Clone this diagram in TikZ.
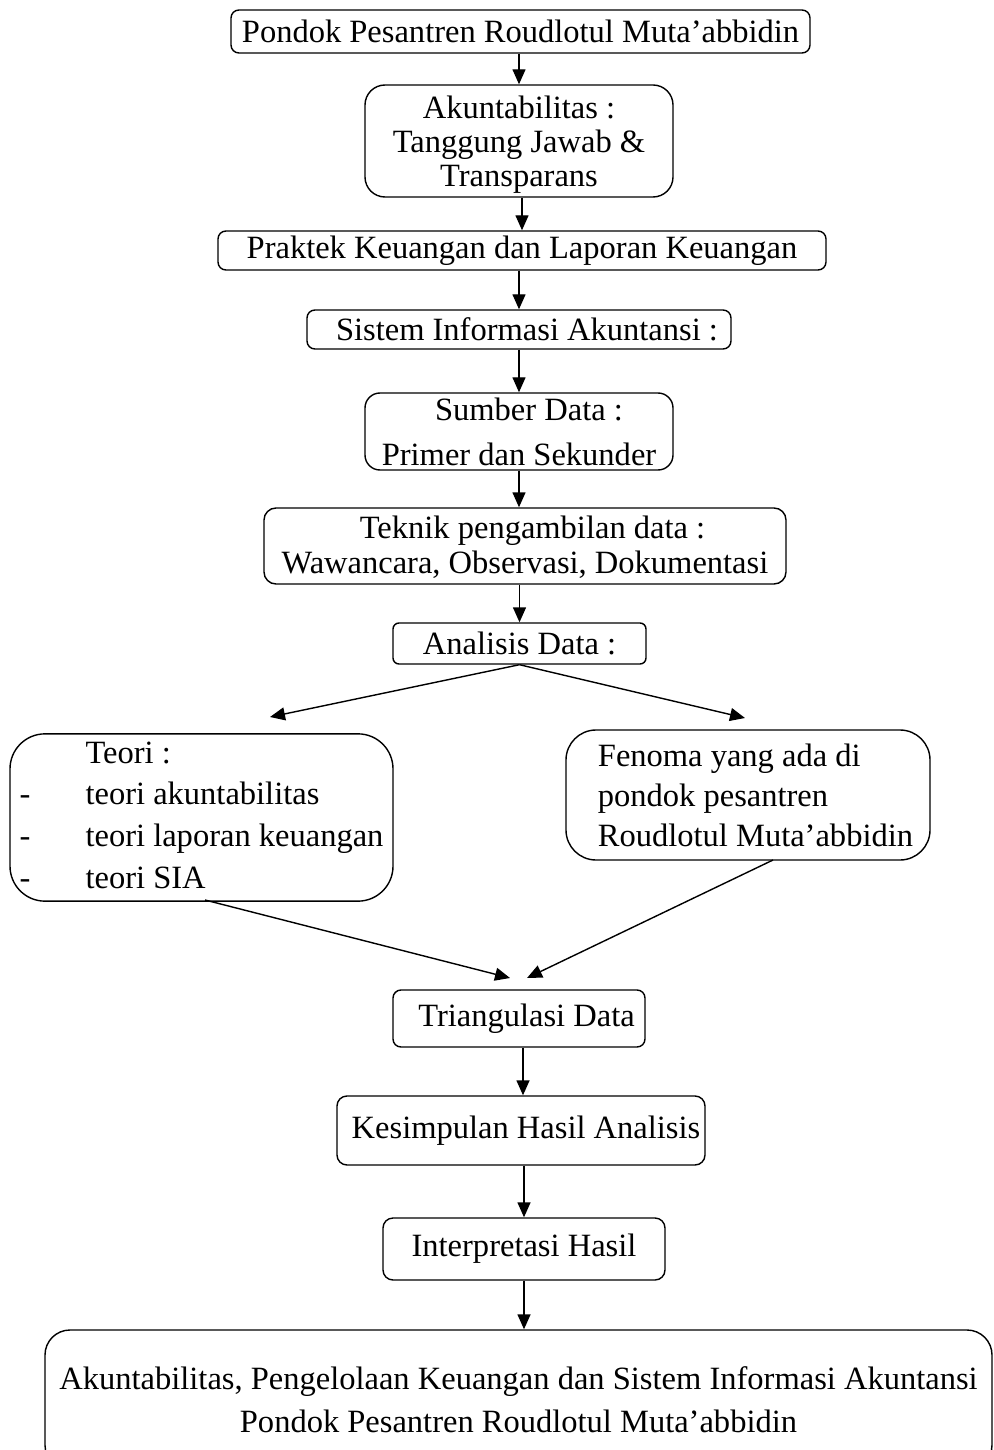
\documentclass[tikz,border=0pt]{standalone}
\usepackage{fontspec}
\setmainfont{Liberation Serif}
\usepackage{tikz}
\usetikzlibrary{arrows.meta, calc}
\tikzset{
  stepbox/.style={draw, rounded corners=1.6mm, align=center, inner sep=0pt, line width=0.8pt},
  link/.style={-{Triangle[length=3mm, width=2.6mm]}, line width=0.8pt}
}
\newcommand{\lineskipat}[1]{\fontsize{18.5}{#1}\selectfont}

\begin{document}
\begin{tikzpicture}[x=0.2mm, y=-0.2mm, font=\lineskipat{23}]
        \clip (0,0) rectangle (993,1450);

        % Main column
        \node[stepbox, minimum width=115.8mm, minimum height=8.6mm] (pondok) at (520.5,31.5) {Pondok Pesantren Roudlotul Muta'abbidin};
        \node[stepbox, rounded corners=4mm, minimum width=61.6mm, minimum height=22.4mm, font=\lineskipat{19.3}] (akun) at (519,141) {\rule{0pt}{6mm}Akuntabilitas :\\Tanggung Jawab \&\\Transparans};
        \node[stepbox, minimum width=121.6mm, minimum height=7.8mm] (praktek) at (522,250.5) {Praktek Keuangan dan Laporan Keuangan};
        \node[stepbox, minimum width=84.8mm, minimum height=7.8mm] (sia) at (519,329.5) {\hspace{3.2mm}Sistem Informasi Akuntansi :};
        \node[stepbox, rounded corners=3mm, minimum width=61.6mm, minimum height=15.4mm, font=\lineskipat{25.5}] (sumber) at (519,431.5) {\hspace{4mm}Sumber Data :\\Primer dan Sekunder};
        \node[stepbox, rounded corners=2.4mm, minimum width=104.4mm, minimum height=15.2mm, font=\lineskipat{20.4}] (teknik) at (525,546) {\rule{0pt}{5mm}\hspace{3mm}Teknik pengambilan data :\\Wawancara, Observasi, Dokumentasi};
        \node[stepbox, rounded corners=1.2mm, minimum width=50.6mm, minimum height=8.2mm] (analisis) at (519.5,643.5) {Analisis Data :};

        % Two branches
        \node[stepbox, rounded corners=7mm, minimum width=76.6mm, minimum height=33mm, font=\lineskipat{23.8}] (teori) at (201.5,817.5) {\begin{tabular}{@{}p{13.2mm}@{}l@{}}
            & Teori :\\
          - & teori akuntabilitas\\
          - & teori laporan keuangan\\
          - & teori SIA
        \end{tabular}};
        \node[stepbox, rounded corners=6mm, minimum width=72.8mm, minimum height=26mm, align=left, font=\lineskipat{22.7}] (fenoma) at (748,795) {\hspace{3mm}Fenoma yang ada di\\\hspace{3mm}pondok pesantren\\\hspace{3mm}Roudlotul Muta'abbidin};

        % Lower column
        \node[stepbox, minimum width=50.4mm, minimum height=11.4mm] (triang) at (519,1018.5) {\hspace{3mm}Triangulasi Data};
        \node[stepbox, rounded corners=2mm, minimum width=73.6mm, minimum height=13.8mm] (simpul) at (521,1130.5) {\hspace{2mm}Kesimpulan Hasil Analisis};
        \node[stepbox, rounded corners=2mm, minimum width=56.4mm, minimum height=12.4mm] (interp) at (524,1249) {Interpretasi Hasil};
        \node[stepbox, rounded corners=5mm, minimum width=189.4mm, minimum height=28mm, font=\lineskipat{24.4}] (hasil) at (518.5,1400) {Akuntabilitas, Pengelolaan Keuangan dan Sistem Informasi Akuntansi\\Pondok Pesantren Roudlotul Muta'abbidin};

        % Free ends
        \coordinate (toteori) at (270,717);
        \coordinate (tofenoma) at (745,718);
        \coordinate (fromteori) at (205,900);
        \coordinate (fromfenoma) at (773,860);
        \coordinate (inleft) at (510,978);
        \coordinate (inright) at (527,978);

        % Links
        \draw[link] (pondok.south -| akun) -- (akun.north);
        \draw[link] (akun.south -| praktek) -- (praktek.north);
        \draw[link] (praktek.south -| sia) -- (sia.north);
        \draw[link] (sia.south -| sumber) -- (sumber.north);
        \draw[link] (sumber.south) -- (sumber.south |- teknik.north);
        \draw[link] (teknik.south -| analisis) -- (analisis.north);

        \draw[link] (analisis.south) -- (toteori);
        \draw[link] (analisis.south) -- (tofenoma);

        \draw[link] (fromteori) -- (inleft);
        \draw[link] (fromfenoma) -- (inright);

        \draw[link] ([xshift=0.8mm]triang.south) -- ([xshift=0.8mm]triang.south |- simpul.north);
        \draw[link] (simpul.south -| interp) -- (interp.north);
        \draw[link] (interp.south) -- (interp.south |- hasil.north);
    \end{tikzpicture}
\end{document}
